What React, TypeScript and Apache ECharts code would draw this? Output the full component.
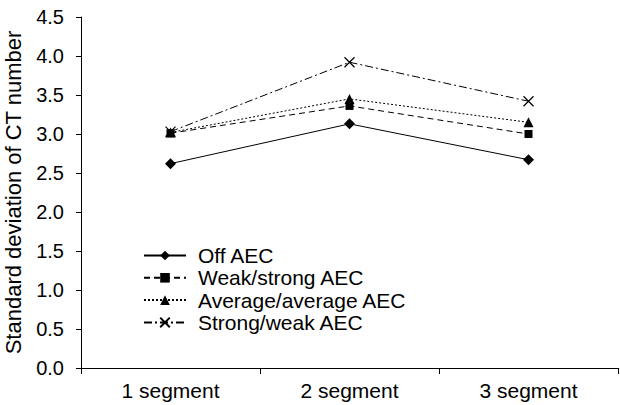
import React, { useEffect, useRef } from "react";
import * as echarts from "echarts";

const categories = ["1 segment", "2 segment", "3 segment"];
const seriesNames = ["Off AEC", "Weak/strong AEC", "Average/average AEC", "Strong/weak AEC"];
const offAEC = [2.62, 3.13, 2.67];
const weakStrong = [3.01, 3.36, 3.0];
const averageAverage = [3.02, 3.45, 3.15];
const strongWeak = [3.03, 3.92, 3.42];
const yTicks = { min: 0, max: 4.5, interval: 0.5 };

const FONT = "'Liberation Sans', Arial, sans-serif";

export default function App() {
  const ref = useRef<HTMLDivElement>(null);
  useEffect(() => {
    if (!ref.current) return;
    const chart = echarts.init(ref.current, null, { renderer: "svg" });
    const mk = (name: string, data: number[], symbol: string, size: number, dash: any, extraItem: any = {}) => ({
      name,
      type: "line",
      data,
      symbol,
      symbolSize: size,
      showAllSymbol: true,
      lineStyle: { color: "#000", width: 1, type: dash },
      itemStyle: { color: "#000", ...extraItem },
      emphasis: { disabled: true },
    });
    chart.setOption({
      animation: false,
      textStyle: { fontFamily: FONT },
      grid: { left: 81, right: 2, top: 17, bottom: 37, containLabel: false, outerBoundsMode: "none" },
      legend: {
        orient: "vertical",
        left: 138,
        top: 240,
        itemWidth: 42,
        itemHeight: 12,
        itemGap: 1.3,
        data: seriesNames,
        textStyle: { fontFamily: FONT, fontSize: 21, color: "#000", lineHeight: 21, padding: [0, 0, 0, 7] },
      },
      xAxis: {
        type: "category",
        data: categories,
        boundaryGap: true,
        axisLine: { lineStyle: { color: "#000", width: 1 } },
        axisTick: { show: true, length: 6, alignWithLabel: false, lineStyle: { color: "#000" } },
        axisLabel: { color: "#000", fontSize: 21, margin: 12, fontFamily: FONT },
        splitLine: { show: false },
      },
      yAxis: {
        type: "value",
        min: yTicks.min,
        max: yTicks.max,
        interval: yTicks.interval,
        name: "Standard deviation of CT number",
        nameLocation: "middle",
        nameGap: 57,
        nameTextStyle: { color: "#000", fontSize: 22, fontFamily: FONT },
        axisLine: { show: true, lineStyle: { color: "#000", width: 1 } },
        axisTick: { show: true, length: 5, lineStyle: { color: "#000" } },
        axisLabel: { color: "#000", fontSize: 20, margin: 17, fontFamily: FONT, formatter: (v: number) => v.toFixed(1) },
        splitLine: { show: false },
      },
      series: [
        mk(seriesNames[0], offAEC, "diamond", 11, "solid"),
        mk(seriesNames[1], weakStrong, "rect", 8, [6, 4]),
        mk(seriesNames[2], averageAverage, "triangle", 10, [2, 2]),
        mk(seriesNames[3], strongWeak, "path://M0,0L10,10M10,0L0,10", 10, [8, 3, 2, 3], {
          color: "transparent",
          borderColor: "#000",
          borderWidth: 1.2,
        }),
      ],
    });
    return () => chart.dispose();
  }, []);
  return <div ref={ref} style={{ position: "absolute", left: 0, top: 0, width: 620, height: 405 }} />;
}
